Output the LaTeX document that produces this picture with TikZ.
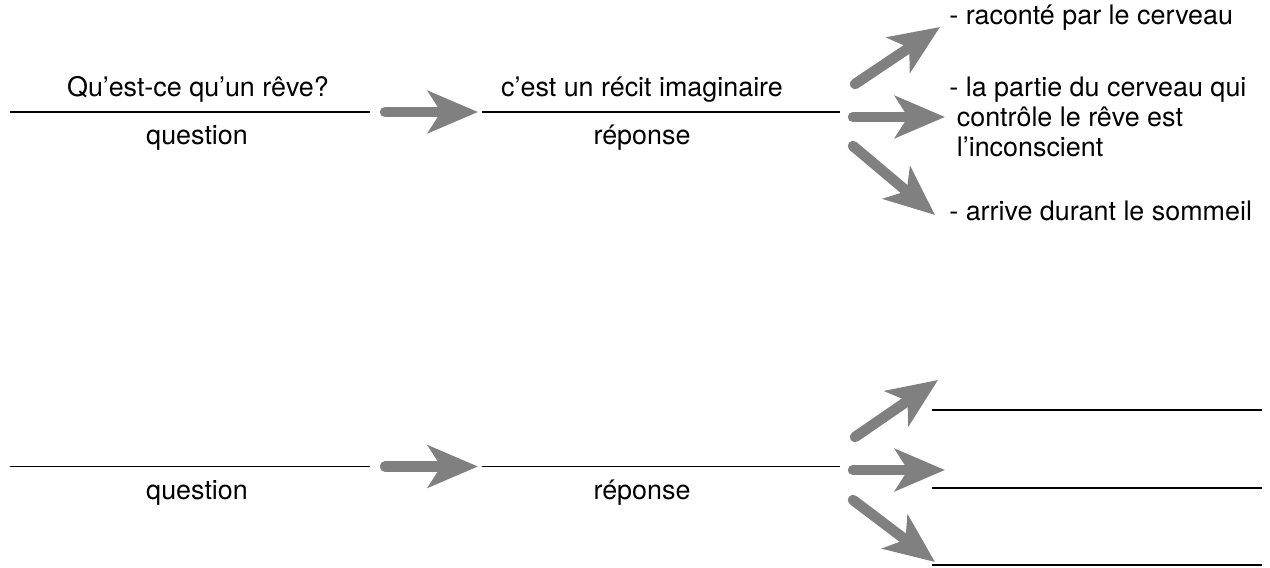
\documentclass[tikz,border=0pt]{standalone}
\usepackage{fontspec}
\setmainfont{TeX Gyre Heros}
\usetikzlibrary{arrows.meta}
\definecolor{arrowgray}{gray}{0.5}

\begin{document}
\begin{tikzpicture}[
  rule/.style={line width=1.1pt},
  fatarrow/.style={draw=arrowgray,line width=0.21cm,line cap=round,
    -{Stealth[length=1cm,width=0.84cm,inset=0.26cm]}},
  lbl/.style={font=\fontsize{15.3}{17}\selectfont,inner sep=0pt}]
\useasboundingbox (0,0) rectangle (25.4,-11.34);
% first row: filled in
\coordinate (q1w) at (0.2,-2.24);  \coordinate (q1e) at (7.4,-2.24);
\coordinate (r1w) at (9.64,-2.24); \coordinate (r1e) at (16.8,-2.24);
\draw[rule] (q1w) -- (q1e);
\draw[rule] (r1w) -- (r1e);
\node[lbl,anchor=base] (q1) at (3.96,-1.92) {Qu’est-ce qu’un rêve?};
\node[lbl,anchor=base] (q1lab) at (3.94,-2.88) {question};
\node[lbl,anchor=base] (r1) at (12.84,-1.92) {c’est un récit imaginaire};
\node[lbl,anchor=base] (r1lab) at (12.84,-2.88) {réponse};
\draw[fatarrow,shorten <=0.3cm,shorten >=0.08cm] (q1e) -- (r1w);
% fan towards the details
\coordinate (u1) at (17.1,-1.68);   \coordinate (uh1) at (18.8,-0.54);
\coordinate (m1) at (17.06,-2.34);  \coordinate (mh1) at (18.9,-2.34);
\coordinate (d1) at (17.06,-2.92);  \coordinate (dh1) at (18.7,-4.3);
\draw[fatarrow] (u1) -- (uh1);
\draw[fatarrow] (m1) -- (mh1);
\draw[fatarrow] (d1) -- (dh1);
\node[lbl,anchor=base west] (a1) at (18.98,-0.48) {- raconté par le cerveau};
% base of a multi-line node is its last line
\node[lbl,anchor=base west,align=left] (a2) at (18.98,-3.12)
  {- la partie du cerveau qui\\\hspace*{0.28em}contrôle le rêve est\\\hspace*{0.28em}l’inconscient};
\node[lbl,anchor=base west] (a3) at (18.98,-4.4) {- arrive durant le sommeil};
% second row: left blank
\coordinate (q2w) at (0.2,-9.33);  \coordinate (q2e) at (7.4,-9.33);
\coordinate (r2w) at (9.64,-9.33); \coordinate (r2e) at (16.8,-9.33);
\draw[rule] (q2w) -- (q2e);
\draw[rule] (r2w) -- (r2e);
\node[lbl,anchor=base] (q2lab) at (3.94,-9.98) {question};
\node[lbl,anchor=base] (r2lab) at (12.84,-9.98) {réponse};
\draw[fatarrow,shorten <=0.3cm,shorten >=0.08cm] (q2e) -- (r2w);
\coordinate (u2) at (17.1,-8.74);   \coordinate (uh2) at (18.76,-7.6);
\coordinate (m2) at (17.06,-9.4);   \coordinate (mh2) at (18.9,-9.4);
\coordinate (d2) at (17.06,-10.0);  \coordinate (dh2) at (18.7,-11.24);
\draw[fatarrow] (u2) -- (uh2);
\draw[fatarrow] (m2) -- (mh2);
\draw[fatarrow] (d2) -- (dh2);
\coordinate (b1w) at (18.64,-8.2);  \coordinate (b1e) at (25.24,-8.2);
\coordinate (b2w) at (18.64,-9.76); \coordinate (b2e) at (25.24,-9.76);
\coordinate (b3w) at (18.64,-11.3); \coordinate (b3e) at (25.24,-11.3);
\draw[rule] (b1w) -- (b1e);
\draw[rule] (b2w) -- (b2e);
\draw[rule] (b3w) -- (b3e);
\end{tikzpicture}
\end{document}
